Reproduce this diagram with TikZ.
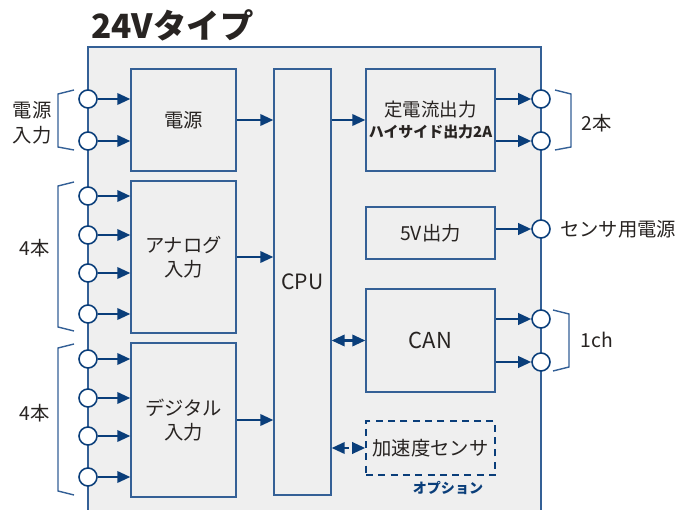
\documentclass[tikz,border=0pt]{standalone}
\usepackage{fontspec}
\setmainfont{Noto Sans CJK JP}
\usetikzlibrary{arrows.meta}
\definecolor{linkblue}{RGB}{10,62,122}
\definecolor{boxblue}{RGB}{52,96,150}
\definecolor{panelgray}{RGB}{239,239,239}
\definecolor{textgray}{RGB}{40,36,34}
\tikzset{
  blk/.style={draw=boxblue,line width=0.8pt,fill=panelgray,inner sep=0pt,
    align=center,text=textgray,font=\fontsize{11}{14}\selectfont},
  optblk/.style={blk,dashed,draw=linkblue,line width=1pt,dash pattern=on 4pt off 3pt},
  pin/.style={circle,draw=linkblue,line width=0.9pt,fill=white,minimum size=0.36cm,inner sep=0pt},
  sig/.style={linkblue,line width=1.2pt,-{Triangle[length=2.6mm,width=2.3mm]}},
  bisig/.style={linkblue,line width=1.2pt,{Triangle[length=2.6mm,width=2.3mm]}-{Triangle[length=2.6mm,width=2.3mm]}},
  brace/.style={boxblue,line width=0.8pt},
  lbl/.style={text=textgray,font=\fontsize{11}{14}\selectfont,align=center}
}
\begin{document}
\begin{tikzpicture}[x=0.02cm,y=-0.02cm]
        \useasboundingbox (0,0) rectangle (684,510);

        % panel
        \fill[panelgray] (88,47) rectangle (541,512);
        \draw[boxblue,line width=0.9pt] (88,512) -- (88,47) -- (541,47) -- (541,512);
        \node[anchor=west,text=textgray,font=\fontsize{19}{22}\bfseries\selectfont] (title) at (85,25) {24Vタイプ};

        % blocks
        \node[blk,minimum width=2.10cm,minimum height=2.04cm] (pwr) at (183.5,120) {電源};
        \node[blk,minimum width=2.10cm,minimum height=3.04cm] (ana) at (183.5,257) {アナログ\\入力};
        \node[blk,minimum width=2.10cm,minimum height=3.08cm] (dig) at (183.5,420) {デジタル\\入力};
        \node[blk,minimum width=1.14cm,minimum height=8.52cm,font=\fontsize{12}{14}\selectfont] (cpu) at (302.5,282) {CPU};
        \node[blk,minimum width=2.58cm,minimum height=2.04cm,font=\fontsize{10.5}{13}\selectfont] (ccout) at (430.5,120) {定電流出力\\[-1pt]{\fontsize{8.5}{10}\bfseries\selectfont ハイサイド出力2A}};
        \node[blk,minimum width=2.58cm,minimum height=1.04cm] (vout) at (430.5,233) {5V出力};
        \node[blk,minimum width=2.58cm,minimum height=2.06cm,font=\fontsize{12.5}{14}\selectfont] (can) at (430.5,340.5) {CAN};
        \node[optblk,minimum width=2.58cm,minimum height=1.08cm] (accel) at (430.5,448) {加速度センサ};
        \node[text=linkblue,font=\fontsize{8}{10}\bfseries\selectfont] (opt) at (448,488) {オプション};

        % pins, left side
        \node[pin] (pin1) at (88,99) {};
        \node[pin] (pin2) at (88,141) {};
        \node[pin] (ain1) at (88,196) {};
        \node[pin] (ain2) at (88,235) {};
        \node[pin] (ain3) at (88,273) {};
        \node[pin] (ain4) at (88,314) {};
        \node[pin] (din1) at (88,359) {};
        \node[pin] (din2) at (88,398) {};
        \node[pin] (din3) at (88,436) {};
        \node[pin] (din4) at (88,477) {};

        % pins, right side
        \node[pin] (oc1) at (541,99) {};
        \node[pin] (oc2) at (541,141) {};
        \node[pin] (v5) at (541,229) {};
        \node[pin] (can1) at (541,319) {};
        \node[pin] (can2) at (541,362) {};

        % inputs
        \draw[sig] (pin1) -- (pin1 -| pwr.west);
        \draw[sig] (pin2) -- (pin2 -| pwr.west);
        \foreach \p in {ain1,ain2,ain3,ain4}
            \draw[sig] (\p) -- (\p -| ana.west);
        \foreach \p in {din1,din2,din3,din4}
            \draw[sig] (\p) -- (\p -| dig.west);

        % to and from cpu
        \draw[sig] (pwr.east) -- (pwr.east -| cpu.west);
        \draw[sig] (ana.east) -- (ana.east -| cpu.west);
        \draw[sig] (dig.east) -- (dig.east -| cpu.west);
        \draw[sig] (pwr.east -| cpu.east) -- (ccout.west);
        \draw[bisig] (can.west -| cpu.east) -- (can.west);
        \draw[bisig,dash pattern=on 3pt off 2.5pt] (accel.west -| cpu.east) -- (accel.west);

        % outputs
        \draw[sig] (oc1 -| ccout.east) -- (oc1);
        \draw[sig] (oc2 -| ccout.east) -- (oc2);
        \draw[sig] (v5 -| vout.east) -- (v5);
        \draw[sig] (can1 -| can.east) -- (can1);
        \draw[sig] (can2 -| can.east) -- (can2);

        % brackets
        \draw[brace] (74,90) -- (58,94) -- (58,147) -- (74,150);
        \draw[brace] (74,182) -- (58,186) -- (58,327) -- (74,331);
        \draw[brace] (74,344) -- (58,348) -- (58,491) -- (74,495);
        \draw[brace] (555,90) -- (571,94) -- (571,147) -- (555,150);
        \draw[brace] (553,310) -- (569,314) -- (569,367) -- (553,371);

        % labels
        \node[lbl] (pwrin) at (32,123) {電源\\入力};
        \node[lbl] (anan) at (35,248) {4本};
        \node[lbl] (dign) at (35,413) {4本};
        \node[lbl] (ocn) at (597,123) {2本};
        \node[lbl,anchor=west] (sens) at (554,229) {センサ用電源};
        \node[lbl] (canch) at (597,340) {1ch};
\end{tikzpicture}
\end{document}
